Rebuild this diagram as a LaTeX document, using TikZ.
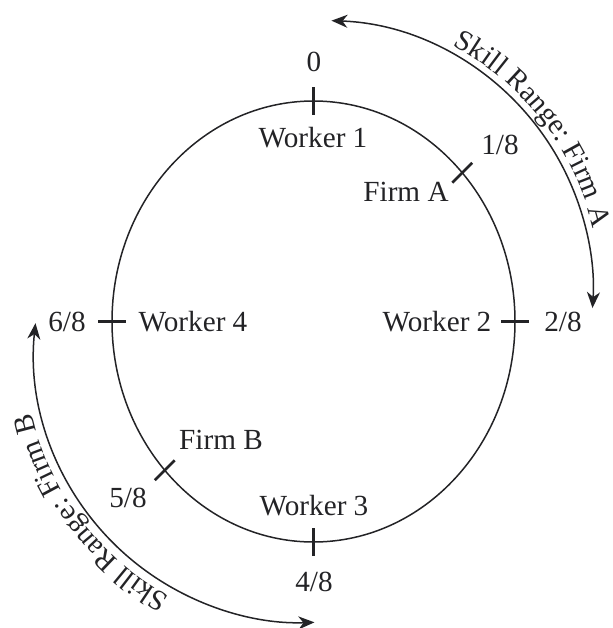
\documentclass[tikz,border=0pt]{standalone}
\usepackage{fontspec}
\setmainfont{Liberation Serif}
\usepackage{tikz}
\usetikzlibrary{arrows.meta,shapes.geometric,decorations.text}
\definecolor{ringInk}{RGB}{35,35,38}
\newcommand{\ringfont}{\fontsize{14.6}{17}\selectfont}
\tikzset{
  tickmark/.style={draw=ringInk, line width=1.3pt},
  rangearc/.style={draw=ringInk, line width=0.75pt,
    {Stealth[length=8pt,width=6.5pt,inset=2.5pt]}-{Stealth[length=8pt,width=6.5pt,inset=2.5pt]}},
  ringlabel/.style={font=\ringfont, text=ringInk, inner sep=0pt},
  rangetext/.style={decorate, decoration={text along path, text color=ringInk, text={|\ringfont|#1}}}
}

\begin{document}
\begin{tikzpicture}[x=0.5pt, y=0.5pt]
  \useasboundingbox (0,0) rectangle (612,-628);
  \node[draw=ringInk, line width=0.75pt, ellipse, minimum width=201.5pt, minimum height=220.5pt,
    inner sep=0pt, outer sep=0pt] (ring) at (313.5,-321.5) {};
  \coordinate (ctrA) at (322,-291.5);
  \coordinate (ctrB) at (305,-351.5);

  \foreach \ang in {0,45,90,180,225,270}
    \draw[tickmark] (ring.\ang) ++(\ang:14) -- ++(\ang+180:28);

  \node[ringlabel] (lblZero) at (314,-62) {0};
  \node[ringlabel] (worker1) at (313,-138) {Worker 1};
  \node[ringlabel] (lblOne) at (500,-145) {1/8};
  \node[ringlabel] (firmA) at (406,-192) {Firm A};
  \node[ringlabel] (worker2) at (437,-322) {Worker 2};
  \node[ringlabel] (lblTwo) at (563,-322) {2/8};
  \node[ringlabel] (lblSix) at (67,-322) {6/8};
  \node[ringlabel] (worker4) at (193,-322) {Worker 4};
  \node[ringlabel] (firmB) at (221,-440) {Firm B};
  \node[ringlabel] (lblFive) at (128,-498) {5/8};
  \node[ringlabel] (worker3) at (314,-506) {Worker 3};
  \node[ringlabel] (lblFour) at (314,-582) {4/8};

  \draw[rangearc] (ctrA) ++(88:271) arc[start angle=88, end angle=-3.5, radius=271];
  \draw[rangearc] (ctrB) ++(174:271) arc[start angle=174, end angle=272, radius=271];
  \path[rangetext={Skill Range: Firm A}] (ctrA) ++(62:278.5) arc[start angle=62, end angle=4, radius=278.5];
  \path[rangetext={Skill Range: Firm B}] (ctrB) ++(241:280) arc[start angle=241, end angle=183, radius=280];
\end{tikzpicture}
\end{document}
